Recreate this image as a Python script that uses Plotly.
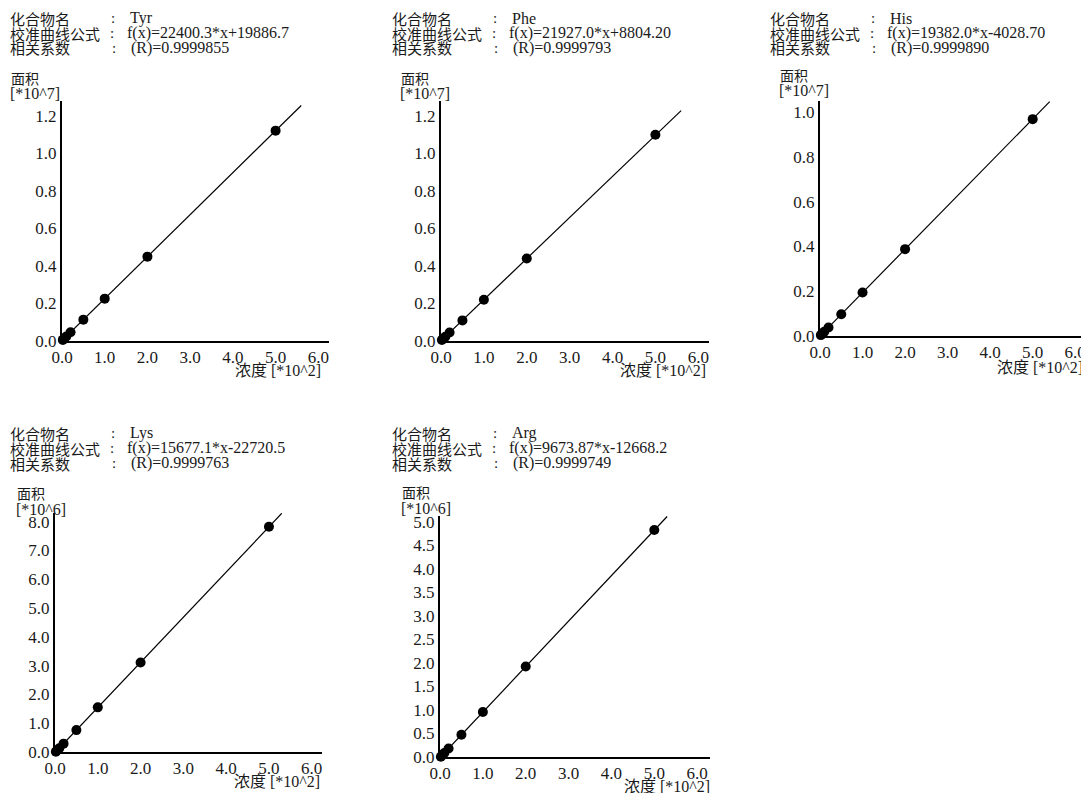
import plotly.graph_objects as go

W, H = 1089, 793
OFF = 8  # page body margin offset of the figure inside the browser window

# ---- data (concentration in *10^2, area in *10^7 or *10^6) ----
conc = [0.02, 0.05, 0.1, 0.2, 0.5, 1.0, 2.0, 5.0]
tyr_area = [0.006, 0.013, 0.024, 0.047, 0.114, 0.226, 0.450, 1.122]
phe_area = [0.005, 0.012, 0.023, 0.045, 0.110, 0.220, 0.440, 1.100]
his_area = [0.004, 0.009, 0.019, 0.038, 0.097, 0.194, 0.388, 0.969]
lys_area = [0.010, 0.060, 0.130, 0.290, 0.760, 1.550, 3.110, 7.820]
arg_area = [0.007, 0.036, 0.084, 0.181, 0.471, 0.955, 1.922, 4.824]

tyr_fit_x, tyr_fit_y = [0.0, 5.6], [0.002, 1.256]
phe_fit_x, phe_fit_y = [0.0, 5.6], [0.001, 1.229]
his_fit_x, his_fit_y = [0.0, 5.4], [0.0, 1.047]
lys_fit_x, lys_fit_y = [0.015, 5.3], [0.0, 8.29]
arg_fit_x, arg_fit_y = [0.013, 5.3], [0.0, 5.11]

names = ["Tyr", "Phe", "His", "Lys", "Arg"]
equations = ["f(x)=22400.3*x+19886.7", "f(x)=21927.0*x+8804.20",
             "f(x)=19382.0*x-4028.70", "f(x)=15677.1*x-22720.5",
             "f(x)=9673.87*x-12668.2"]
rvalues = ["(R)=0.9999855", "(R)=0.9999793", "(R)=0.9999890",
           "(R)=0.9999763", "(R)=0.9999749"]
y_units = ["[*10^7]", "[*10^7]", "[*10^7]", "[*10^6]", "[*10^6]"]
x_ticks = [0, 1, 2, 3, 4, 5, 6]
y_ticks = [
    [0, 0.2, 0.4, 0.6, 0.8, 1.0, 1.2],
    [0, 0.2, 0.4, 0.6, 0.8, 1.0, 1.2],
    [0, 0.2, 0.4, 0.6, 0.8, 1.0],
    [0, 1, 2, 3, 4, 5, 6, 7, 8],
    [0, 0.5, 1.0, 1.5, 2.0, 2.5, 3.0, 3.5, 4.0, 4.5, 5.0],
]
y_ranges = [1.28, 1.28, 1.05, 8.3, 5.12]
x_range = [6.25, 6.25, 6.3, 6.24, 6.3]

series = [
    (tyr_area, tyr_fit_x, tyr_fit_y),
    (phe_area, phe_fit_x, phe_fit_y),
    (his_area, his_fit_x, his_fit_y),
    (lys_area, lys_fit_x, lys_fit_y),
    (arg_area, arg_fit_x, arg_fit_y),
]

# ---- layout (screen pixel positions) ----
# plot boxes: left, right, top, bottom
boxes = [(62, 329, 101, 341), (441, 709, 101, 341), (820, 1088, 101, 336),
         (55, 322, 513, 752), (440, 710, 516, 757)]
header_x = [8, 390, 768, 8, 390]
header_y = [18, 18, 18, 433, 433]
unit_pos = [(9, 78), (399, 78), (778, 75), (15, 493), (400, 492)]
xlabel_pos = [(323, 370), (708, 370), (1085, 367), (322, 781), (712, 786)]

SERIF = "Liberation Serif, Noto Sans CJK SC"
CJK = "Noto Sans CJK SC, Liberation Serif"
TXT = "#1a1a1a"


def px(x):
    return (x - OFF) / W


def py(y):
    return 1 - (y - OFF) / H


fig = go.Figure()
annotations = []

for i, (area, fx, fy) in enumerate(series):
    xa = "x" if i == 0 else f"x{i+1}"
    ya = "y" if i == 0 else f"y{i+1}"
    fig.add_trace(go.Scatter(x=fx, y=fy, mode="lines", xaxis=xa, yaxis=ya,
                             line=dict(color="black", width=1.2),
                             showlegend=False, hoverinfo="skip"))
    fig.add_trace(go.Scatter(x=conc, y=area, mode="markers", xaxis=xa, yaxis=ya,
                             marker=dict(color="black", size=10),
                             cliponaxis=False, showlegend=False))
    l, r, t, b = boxes[i]
    xkey = "xaxis" if i == 0 else f"xaxis{i+1}"
    ykey = "yaxis" if i == 0 else f"yaxis{i+1}"
    fig.layout[xkey] = dict(
        domain=[px(l), px(r)], range=[0, x_range[i]], anchor=ya,
        automargin=False,
        showgrid=False, zeroline=False, showline=True, linecolor="black",
        linewidth=2, ticks="", tickvals=x_ticks, tickformat=".1f",
        tickfont=dict(family=SERIF, size=17, color=TXT), fixedrange=True)
    fig.layout[ykey] = dict(
        domain=[py(b), py(t)], range=[0, y_ranges[i]], anchor=xa,
        automargin=False,
        showgrid=False, zeroline=False, showline=True, linecolor="black",
        linewidth=2, ticks="", tickvals=y_ticks[i], tickformat=".1f",
        tickfont=dict(family=SERIF, size=17, color=TXT), fixedrange=True)

    x0, y0 = header_x[i], header_y[i]
    labels = ["化合物名", "校准曲线公式", "相关系数"]
    values = [names[i], equations[i], rvalues[i]]
    colon_dx = [105, 104, 106]
    value_dx = [120, 117, 121]
    for k in range(3):
        yy = y0 + 15 * k
        annotations.append(dict(x=px(x0), y=py(yy), xref="paper", yref="paper",
                                text=labels[k], showarrow=False, xanchor="left",
                                yanchor="middle",
                                font=dict(family=CJK, size=15, color=TXT)))
        annotations.append(dict(x=px(x0 + colon_dx[k]), y=py(yy), xref="paper",
                                yref="paper", text=":", showarrow=False,
                                xanchor="center", yanchor="middle",
                                font=dict(family=SERIF, size=15, color=TXT)))
        annotations.append(dict(x=px(x0 + value_dx[k]), y=py(yy), xref="paper",
                                yref="paper", text=values[k], showarrow=False,
                                xanchor="left", yanchor="middle",
                                font=dict(family=SERIF, size=16, color=TXT)))
    ux, uy = unit_pos[i]
    annotations.append(dict(x=px(ux), y=py(uy), xref="paper", yref="paper",
                            text="面积", showarrow=False, xanchor="left",
                            yanchor="middle",
                            font=dict(family=CJK, size=14, color=TXT)))
    annotations.append(dict(x=px(ux - 1), y=py(uy + 16), xref="paper", yref="paper",
                            text=y_units[i], showarrow=False, xanchor="left",
                            yanchor="middle",
                            font=dict(family=SERIF, size=16, color=TXT)))
    lx, ly = xlabel_pos[i]
    annotations.append(dict(x=px(lx), y=py(ly), xref="paper", yref="paper",
                            text="浓度 [*10^2]", showarrow=False, xanchor="right",
                            yanchor="middle",
                            font=dict(family=SERIF, size=16, color=TXT)))

fig.update_layout(
    width=W, height=H, margin=dict(l=0, r=0, t=0, b=0, autoexpand=False),
    paper_bgcolor="white", plot_bgcolor="white",
    annotations=annotations, showlegend=False,
)

fig.write_html("out.html", config={"displayModeBar": False})
